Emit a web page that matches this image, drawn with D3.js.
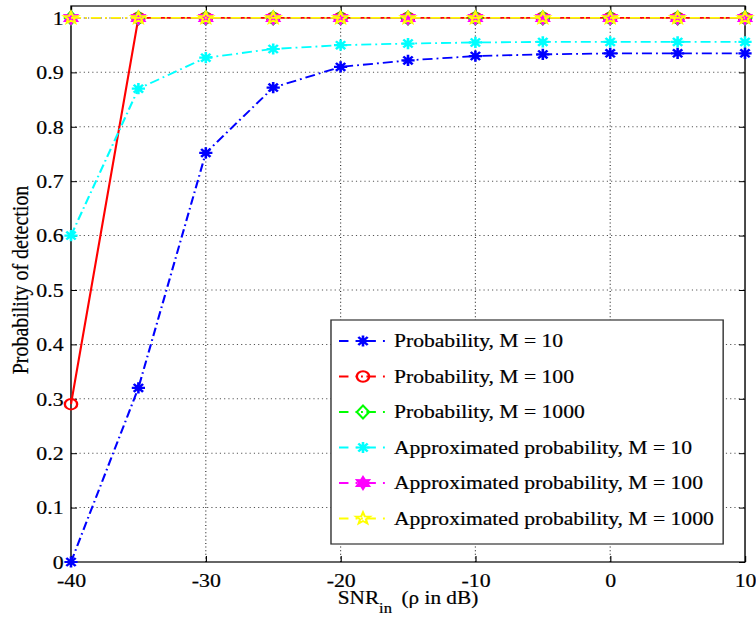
<!DOCTYPE html>
<html>
<head>
<meta charset="utf-8">
<script src="https://cdn.jsdelivr.net/npm/d3@7"></script>
<style>
  html, body { margin: 0; padding: 0; background: #fff; }
  svg { display: block; }
  text { font-family: "Liberation Serif", "Times New Roman", serif; fill: #000; stroke: #000; stroke-width: 0.2; }
</style>
</head>
<body>
<div id="chart"></div>
<script>
// SNR in dB
const snr = [-40, -35, -30, -25, -20, -15, -10, -5, 0, 5, 10];

const probM10 = [0, 0.32, 0.752, 0.872, 0.91, 0.922, 0.93, 0.933, 0.935, 0.935, 0.935];
const probM100 = [0.29, 1, 1, 1, 1, 1, 1, 1, 1, 1, 1];
const probM1000 = [1, 1, 1, 1, 1, 1, 1, 1, 1, 1, 1];
const approxM10 = [0.6, 0.87, 0.927, 0.943, 0.95, 0.953, 0.955, 0.956, 0.956, 0.956, 0.956];
const approxM100 = [1, 1, 1, 1, 1, 1, 1, 1, 1, 1, 1];
const approxM1000 = [1, 1, 1, 1, 1, 1, 1, 1, 1, 1, 1];

const xTicks = [-40, -30, -20, -10, 0, 10];
const yTicks = [0, 0.1, 0.2, 0.3, 0.4, 0.5, 0.6, 0.7, 0.8, 0.9, 1];

const series = [
  { name: "Probability, M = 10", values: probM10, color: "#0000ff", marker: "star", solid: false },
  { name: "Probability, M = 100", values: probM100, color: "#ff0000", marker: "circle", solid: true },
  { name: "Probability, M = 1000", values: probM1000, color: "#00ff00", marker: "diamond", solid: false },
  { name: "Approximated probability, M = 10", values: approxM10, color: "#00ffff", marker: "star", solid: false },
  { name: "Approximated probability, M = 100", values: approxM100, color: "#ff00ff", marker: "hexagram", solid: false },
  { name: "Approximated probability, M = 1000", values: approxM1000, color: "#ffff00", marker: "pentagram", solid: false }
];

// the picture is a bit wider than it is tall, so draw in a narrower box and stretch it
const outW = 756, outH = 625;
const W = 640, H = 625;
const margin = { top: 6, right: W - 630.7, bottom: H - 562, left: 60.1 };

const svg = d3.select("#chart").append("svg")
  .attr("width", outW).attr("height", outH)
  .attr("viewBox", `0 0 ${W} ${H}`)
  .attr("preserveAspectRatio", "none");

const x = d3.scaleLinear().domain([-40, 10]).range([margin.left, W - margin.right]);
const y = d3.scaleLinear().domain([0, 1.022]).range([H - margin.bottom, margin.top]);

const x0 = x.range()[0], x1 = x.range()[1];
const y0 = y.range()[0], y1 = y.range()[1];

// grid
const grid = svg.append("g").attr("stroke", "#333").attr("stroke-width", 1)
  .attr("stroke-dasharray", "1,2.6");
grid.selectAll(".gx").data(xTicks.slice(1, -1)).enter().append("line")
  .attr("x1", d => x(d)).attr("x2", d => x(d)).attr("y1", y0).attr("y2", y1);
grid.selectAll(".gy").data(yTicks.slice(1)).enter().append("line")
  .attr("x1", x0).attr("x2", x1).attr("y1", d => y(d)).attr("y2", d => y(d))
  .attr("stroke", "#555");

// axes (inner ticks on all four sides, like a boxed plot)
const tick = 6;
const fmt = d => String(d);
const axB = svg.append("g").attr("transform", `translate(0,${y0})`)
  .call(d3.axisBottom(x).tickValues(xTicks).tickSize(-tick).tickPadding(tick + 10).tickFormat(fmt));
const axT = svg.append("g").attr("transform", `translate(0,${y1})`)
  .call(d3.axisTop(x).tickValues(xTicks).tickSize(-tick).tickFormat(""));
const axL = svg.append("g").attr("transform", `translate(${x0},0)`)
  .call(d3.axisLeft(y).tickValues(yTicks).tickSize(-tick / 1.18).tickPadding(tick / 1.18 + 1.2).tickFormat(fmt));
const axR = svg.append("g").attr("transform", `translate(${x1},0)`)
  .call(d3.axisRight(y).tickValues(yTicks).tickSize(-tick / 1.18).tickFormat(""));

[axB, axT, axL, axR].forEach(a => {
  a.select(".domain").remove();
  a.selectAll(".tick line").attr("stroke", "#000").attr("stroke-width", 1);
  a.selectAll("text").attr("font-size", 18.5).attr("font-family", "Liberation Serif").attr("fill", "#000");
});
axB.selectAll(".tick text").attr("dy", 0).attr("y", 587 - y0);
axL.selectAll(".tick text").attr("dy", "0.34em");

svg.append("rect").attr("x", x0).attr("y", y1).attr("width", x1 - x0).attr("height", y0 - y1)
  .attr("fill", "none").attr("stroke", "#000").attr("stroke-width", 1.2);

// marker shapes, centred on 0,0
function starPoints(n, ro, ri) {
  const pts = [];
  for (let i = 0; i < 2 * n; i++) {
    const a = -Math.PI / 2 + i * Math.PI / n;
    const r = i % 2 === 0 ? ro : ri;
    pts.push([r * Math.cos(a), r * Math.sin(a)]);
  }
  return "M" + pts.map(p => p.join(",")).join("L") + "Z";
}
function drawMarker(g, type, color) {
  if (type === "star") {
    const r = 5.6;
    const d = [0, 45, 90, 135].map(a => {
      const t = a * Math.PI / 180;
      return `M${-r * Math.cos(t)},${-r * Math.sin(t)}L${r * Math.cos(t)},${r * Math.sin(t)}`;
    }).join("");
    g.append("path").attr("d", d).attr("stroke", color).attr("stroke-width", 2.2).attr("fill", "none");
  } else if (type === "circle") {
    g.append("circle").attr("r", 5.2).attr("stroke", color).attr("stroke-width", 2).attr("fill", "none");
  } else if (type === "diamond") {
    g.append("path").attr("d", "M0,-6.5L5.2,0L0,6.5L-5.2,0Z")
      .attr("stroke", color).attr("stroke-width", 2).attr("fill", "none");
  } else if (type === "hexagram") {
    g.append("path").attr("d", starPoints(6, 5.4, 3))
      .attr("stroke", color).attr("stroke-width", 2.4).attr("fill", color);
  } else if (type === "pentagram") {
    g.append("path").attr("d", starPoints(5, 6.2, 2.6))
      .attr("stroke", color).attr("stroke-width", 1.8).attr("fill", "none");
  }
}

const line = d3.line().x((d, i) => x(snr[i])).y(d => y(d));
const dash = "8.5,3.4,1.6,3.4";

series.forEach(s => {
  const g = svg.append("g");
  g.append("path").datum(s.values).attr("d", line)
    .attr("fill", "none").attr("stroke", s.color).attr("stroke-width", 1.8)
    .attr("stroke-dasharray", s.solid ? null : dash);
  s.values.forEach((v, i) => {
    drawMarker(g.append("g").attr("transform", `translate(${x(snr[i])},${y(v)})`), s.marker, s.color);
  });
});

// legend
const lg = svg.append("g");
const lgLeft = 280.2, lgRight = 612.2, lgTop = 320, lgBottom = 544;
lg.append("rect").attr("x", lgLeft).attr("y", lgTop).attr("width", lgRight - lgLeft).attr("height", lgBottom - lgTop)
  .attr("fill", "#fff").attr("stroke", "#333").attr("stroke-width", 1.2);
series.forEach((s, i) => {
  const cy = 341 + i * 35.5;
  const row = lg.append("g");
  row.append("line").attr("x1", 287).attr("x2", 328.5).attr("y1", cy).attr("y2", cy)
    .attr("stroke", s.color).attr("stroke-width", 1.8).attr("stroke-dasharray", "8,6,1.6,3,1.6,3");
  drawMarker(row.append("g").attr("transform", `translate(307.3,${cy})`), s.marker, s.color);
  row.append("text").attr("x", 333.5).attr("y", cy + 6.5).attr("font-size", 18.3).text(s.name);
});

// axis titles
const xl = svg.append("text").attr("x", (x0 + x1) / 2).attr("y", 604)
  .attr("text-anchor", "middle").attr("font-size", 18);
xl.append("tspan").text("SNR");
xl.append("tspan").attr("dy", 9).attr("font-size", 14).text("in");
xl.append("tspan").attr("dy", -9).text("\u2009 (\u03c1 in dB)");

svg.append("text").attr("transform", `translate(23.5,${(y0 + y1) / 2 - 4}) rotate(-90)`)
  .attr("text-anchor", "middle").attr("font-size", 20).text("Probability of detection");
</script>
</body>
</html>
